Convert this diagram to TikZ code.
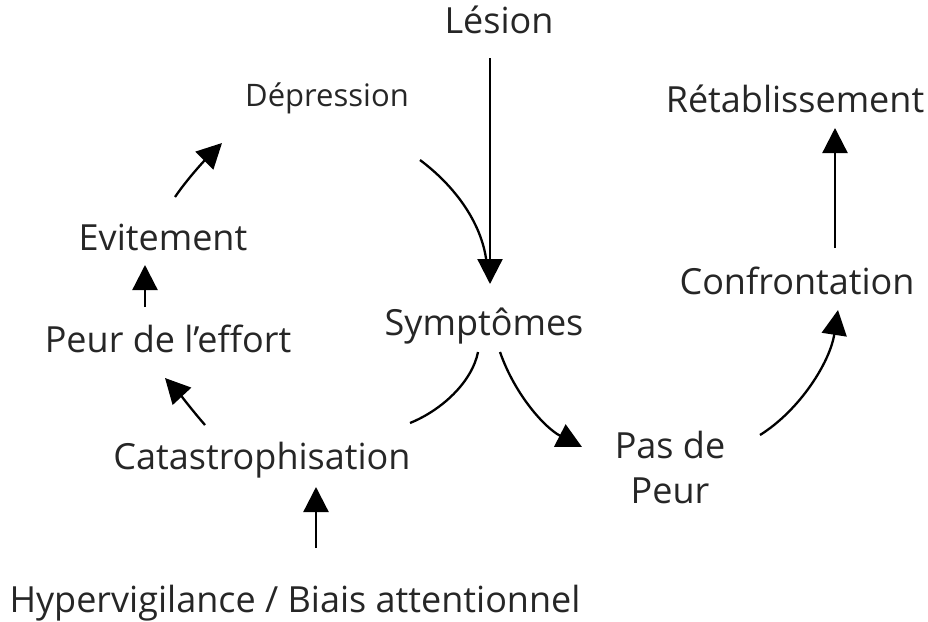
\documentclass[tikz,border=0pt]{standalone}
\usepackage{fontspec}
\setmainfont{Open Sans}
\usetikzlibrary{arrows.meta,calc}
\definecolor{ink}{HTML}{262626}
\tikzset{
  lbl/.style={inner sep=0pt, anchor=base, text=ink, font=\fontsize{36}{45}\selectfont},
  small/.style={lbl, font=\fontsize{31}{36}\selectfont},
  arr/.style={draw=black, line width=2.3pt, -{Triangle[length=25pt,width=25pt]}},
  link/.style={draw=black, line width=2.3pt}
}
\begin{document}
\begin{tikzpicture}[x=1pt,y=-1pt]
\useasboundingbox (0,0) rectangle (928,621);
% labels
\node[lbl]   (les) at (499,33)  {Lésion};
\node[small] (dep) at (327,106) {Dépression};
\node[lbl]   (ret) at (795,112) {Rétablissement};
\node[lbl]   (evi) at (163,250) {Evitement};
\node[lbl]   (con) at (797,294) {Confrontation};
\node[lbl]   (sym) at (484,335) {Symptômes};
\node[lbl]   (peur) at (168,352) {Peur de l’effort};
\node[lbl]   (cat) at (262,469) {Catastrophisation};
\node[lbl, align=center] (pas) at (670,503) {Pas de\\Peur};
\node[lbl]   (hyp) at (295,612) {Hypervigilance / Biais attentionnel};
% connectors
\draw[arr] ($(les.base)+(-9,25)$) -- ($(sym.base)+(6,-51)$);
\draw[link] ($(dep.base)+(93,54)$) .. controls (460,190) and (485,230) .. ($(sym.base)+(3,-67)$);
\draw[link] ($(sym.base)+(-6,17)$) .. controls (472,382) and (442,410) .. ($(cat.base)+(148,-46)$);
\draw[arr] ($(sym.base)+(16,17)$) .. controls (515,395) and (545,428) .. ($(pas.base)+(-88,-56)$);
\draw[arr] ($(pas.base)+(90,-68)$) .. controls (800,410) and (830,362) .. ($(con.base)+(41,16)$);
\draw[arr] ($(con.base)+(38,-46)$) -- ($(ret.base)+(40,16)$);
\draw[arr] ($(cat.base)+(-57,-44)$) .. controls (192,410) and (178,392) .. ($(peur.base)+(-3,26)$);
\draw[arr] ($(peur.base)+(-23,-45)$) -- ($(evi.base)+(-18,15)$);
\draw[arr] ($(evi.base)+(12,-53)$) .. controls (188,178) and (205,160) .. ($(dep.base)+(-105,37)$);
\draw[arr] ($(hyp.base)+(21,-64)$) -- ($(cat.base)+(54,18)$);
\end{tikzpicture}
\end{document}
